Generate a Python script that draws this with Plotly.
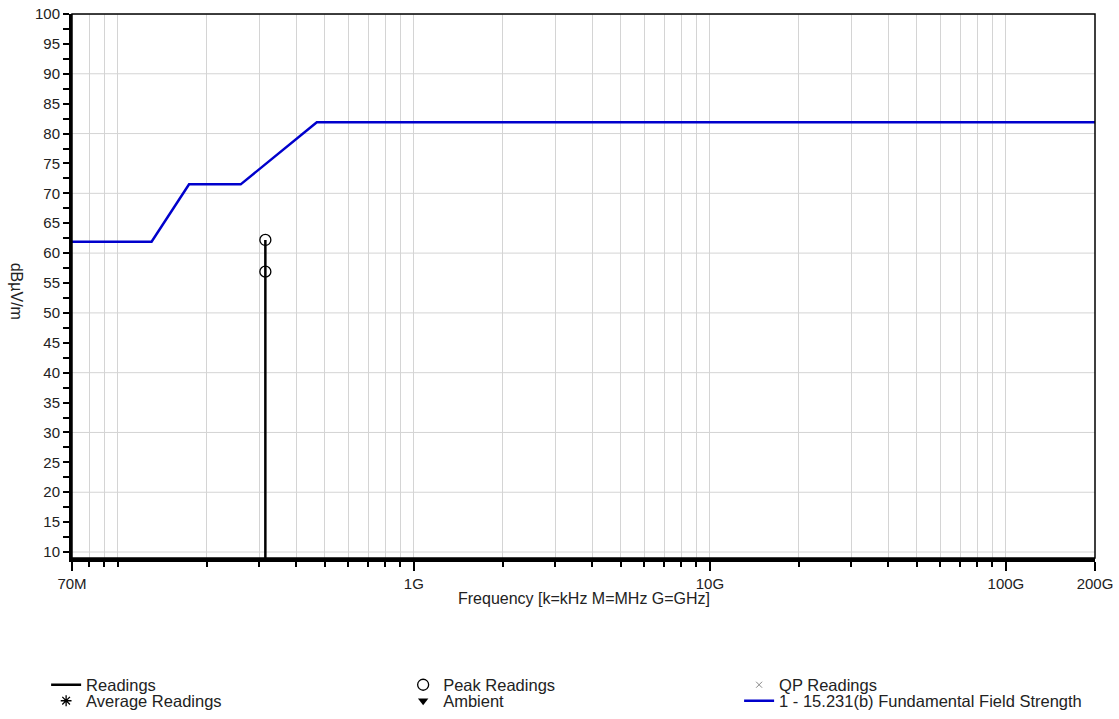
import math
import plotly.graph_objects as go

# ---------------- data ----------------
LIMIT_NAME = "1 - 15.231(b) Fundamental Field Strength"
LIMIT_FREQ_HZ = [70e6, 130e6, 174e6, 260e6, 470e6, 200e9]
LIMIT_DBUV = [61.9, 61.9, 71.5, 71.5, 81.9, 81.9]

READING_FREQ_HZ = [315e6, 315e6]
READING_DBUV = [9.0, 62.2]

PEAK_FREQ_HZ = [315e6, 315e6]
PEAK_DBUV = [62.2, 56.9]

X_TICK_VALS = [70e6, 1e9, 1e10, 1e11, 2e11]
X_TICK_TEXT = ["70M", "1G", "10G", "100G", "200G"]
X_MINOR_VALS = [80e6, 90e6, 100e6] + [m * 10 ** e for e in (8, 9, 10) for m in range(2, 10)]
Y_RANGE = [9, 100]
Y_GRID = list(range(10, 101, 10))

FONT = "Liberation Sans, Arial, sans-serif"
TXT = "#222222"
FS = 16

# legend placement (paper coords): columns and rows
COL_X = [-0.0253, 0.3237, 0.6521]
ROW_Y = [-0.2335, -0.2629]

fig = go.Figure()


def legend_cfg(col, row):
    return dict(orientation="h", x=COL_X[col], xanchor="left", y=ROW_Y[row], yanchor="middle",
                font=dict(family=FONT, size=16.5, color=TXT), bgcolor="rgba(0,0,0,0)",
                borderwidth=0)


fig.add_trace(go.Scatter(
    x=LIMIT_FREQ_HZ, y=LIMIT_DBUV, mode="lines", name=LIMIT_NAME,
    line=dict(color="#0000cc", width=2.5), legend="legend6"))
fig.add_trace(go.Scatter(
    x=READING_FREQ_HZ, y=READING_DBUV, mode="lines", name="Readings",
    line=dict(color="black", width=2.5), legend="legend"))
fig.add_trace(go.Scatter(
    x=PEAK_FREQ_HZ, y=PEAK_DBUV, mode="markers", name="Peak Readings",
    marker=dict(symbol="circle-open", size=11, color="black", line=dict(width=1.3)),
    legend="legend2"))
fig.add_trace(go.Scatter(
    x=[None], y=[None], mode="markers", name="QP Readings",
    marker=dict(symbol="x-thin-open", size=6, color="#888888", line=dict(width=1)),
    legend="legend3"))
fig.add_trace(go.Scatter(
    x=[None], y=[None], mode="markers", name="Average Readings",
    marker=dict(symbol="asterisk-open", size=9, color="black", line=dict(width=1.3)),
    legend="legend4"))
fig.add_trace(go.Scatter(
    x=[None], y=[None], mode="markers", name="Ambient",
    marker=dict(symbol="triangle-down", size=9, color="black"),
    legend="legend5"))

shapes = [
    dict(type="line", xref="paper", x0=0, x1=1, yref="y", y0=g, y1=g,
         line=dict(color="#d4d4d4", width=1), layer="below")
    for g in Y_GRID
]
shapes.append(dict(type="rect", xref="paper", yref="paper", x0=0, x1=1, y0=0, y1=1,
                   line=dict(color="black", width=1.5), layer="above"))

fig.update_layout(
    width=1119, height=719,
    margin=dict(l=72, r=24, t=14, b=161, autoexpand=False),
    paper_bgcolor="white", plot_bgcolor="white",
    font=dict(family=FONT, size=FS, color=TXT),
    showlegend=True,
    legend=legend_cfg(0, 0),
    legend2=legend_cfg(1, 0),
    legend3=legend_cfg(2, 0),
    legend4=legend_cfg(0, 1),
    legend5=legend_cfg(1, 1),
    legend6=legend_cfg(2, 1),
    shapes=shapes,
    xaxis=dict(
        type="log", automargin=False, ticklabeloverflow="allow",
        range=[math.log10(70e6) - 1e-6, math.log10(200e9) + 1e-6],
        tickmode="array", tickvals=X_TICK_VALS, ticktext=X_TICK_TEXT,
        ticks="outside", ticklen=9, tickwidth=2, tickcolor="black",
        showgrid=True, gridcolor="#d4d4d4", gridwidth=1,
        showline=True, linecolor="black", linewidth=4,
        zeroline=False,
        minor=dict(tickmode="array", tickvals=X_MINOR_VALS, ticks="outside",
                   ticklen=5, tickwidth=2, tickcolor="black",
                   showgrid=True, gridcolor="#d4d4d4", gridwidth=1),
        tickfont=dict(family=FONT, size=15, color=TXT),
    ),
    yaxis=dict(
        range=[Y_RANGE[0], Y_RANGE[1] + 1e-9], tickmode="linear", tick0=0, dtick=5,
        automargin=False, ticklabeloverflow="allow",
        ticks="outside", ticklen=6, tickwidth=2, tickcolor="black",
        showgrid=False, zeroline=False,
        showline=True, linecolor="black", linewidth=3,
        minor=dict(tickmode="linear", tick0=0, dtick=2.5, ticks="outside",
                   ticklen=6, tickwidth=2, tickcolor="black", showgrid=False),
        tickfont=dict(family=FONT, size=15, color=TXT),
    ),
    annotations=[
        dict(text="Frequency [k=kHz M=MHz G=GHz]", xref="paper", yref="paper",
             x=0.5, y=-0.075, xanchor="center", yanchor="middle", showarrow=False,
             font=dict(family=FONT, size=FS, color=TXT)),
        dict(text="dBµV/m", xref="paper", yref="paper", x=-0.054, y=0.49,
             xanchor="center", yanchor="middle", textangle=90, showarrow=False,
             font=dict(family=FONT, size=FS, color=TXT)),
    ],
)

# remove the default page-body margin so the figure fills the window exactly
fig.write_html("out.html",
               config={"displayModeBar": False},
               post_script="document.body.style.margin='0';document.body.style.overflow='hidden';")
